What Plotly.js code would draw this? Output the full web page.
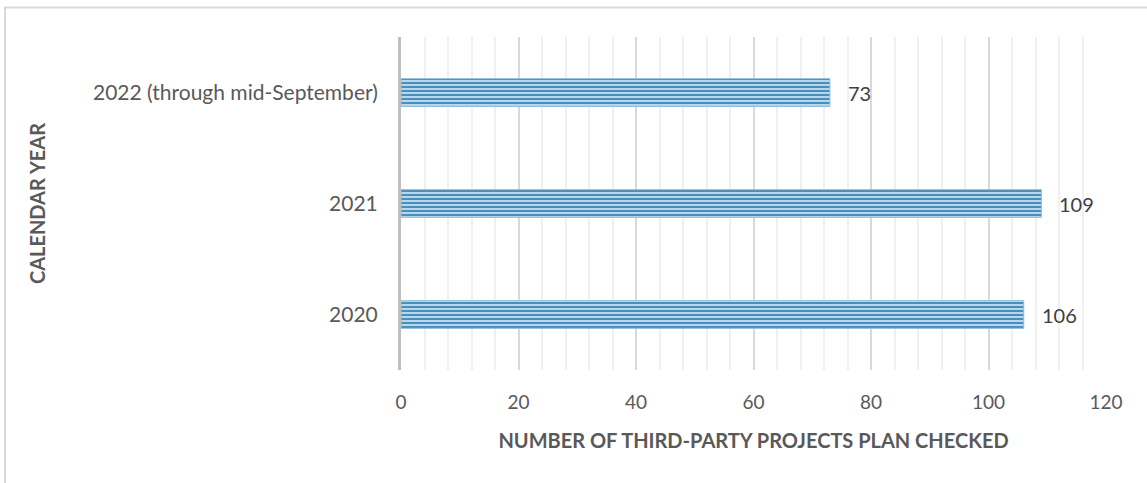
<!DOCTYPE html>
<html>
<head>
<meta charset="utf-8">
<script src="https://cdn.plot.ly/plotly-3.0.1.min.js"></script>
<style>html,body{margin:0;padding:0;background:#fff;}#chart{width:1147px;height:483px;}</style>
</head>
<body>
<div id="chart"></div>
<script>
const categories = ["2020", "2021", "2022 (through mid-September)"];
const values = [106, 109, 73];
const xTickVals = [0, 20, 40, 60, 80, 100, 120];
const xTitle = "NUMBER OF THIRD-PARTY PROJECTS PLAN CHECKED";
const yTitle = "CALENDAR YEAR";

const font = "Lato, 'Open Sans', sans-serif";
const W = 1147, H = 483;
const L = 401, R = 41, T = 37, B = 113;
const pw = W - L - R, ph = H - T - B;
function px2x(p){ return (p - L) / pw; }
function py2y(p){ return (H - B - p) / ph; }

const trace = {
  type: "bar",
  orientation: "h",
  y: categories,
  x: values,
  width: 0.25,
  marker: {
    color: "#b3d3ea",
    line: {color: "#8fbcdc", width: 1},
    pattern: {shape: "-", fgcolor: "#3d86b5", bgcolor: "#b8d7ed", size: 4, solidity: 0.45, fillmode: "replace"}
  },
  hoverinfo: "none"
};

const annotations = values.map((v, i) => ({
  x: v, y: i, xref: "x", yref: "y",
  text: String(v), showarrow: false, xanchor: "left", xshift: 16,
  font: {family: font, size: 20, color: "#404040"}
}));

const layout = {
  width: W, height: H,
  margin: {l: L, r: R, t: T, b: B, pad: 0},
  paper_bgcolor: "#fff", plot_bgcolor: "#fff",
  showlegend: false,
  xaxis: {
    range: [0, 120], tickvals: xTickVals, ticktext: xTickVals.map(String),
    showgrid: true, gridcolor: "#d9d9d9", gridwidth: 2,
    minor: {dtick: 4, tick0: 0, showgrid: true, gridcolor: "#f0f0f0", gridwidth: 2, ticks: ""},
    zeroline: false, showline: false, ticks: "",
    tickfont: {family: font, size: 19, color: "#595959"},
    ticklabelstandoff: 19,
    title: {text: xTitle, font: {family: font, size: 20, color: "#595959", weight: "bold"}, standoff: 21},
    fixedrange: true
  },
  yaxis: {
    type: "category", categoryorder: "array", categoryarray: categories,
    range: [-0.5, 2.5],
    showgrid: false, zeroline: false,
    showline: true, linecolor: "#bfbfbf", linewidth: 3,
    ticks: "", tickfont: {family: font, size: 21, color: "#595959"},
    ticklabelstandoff: 16,
    title: {text: yTitle, font: {family: font, size: 20, color: "#595959", weight: "bold"}, standoff: 42},
    automargin: false, fixedrange: true
  },
  annotations: annotations,
  shapes: [{
    type: "rect", xref: "paper", yref: "paper",
    x0: px2x(5), x1: px2x(1160), y0: py2y(500), y1: py2y(7.5),
    line: {color: "#d9d9d9", width: 2}, fillcolor: "rgba(0,0,0,0)", layer: "below"
  }]
};

Plotly.newPlot("chart", [trace], layout, {displayModeBar: false, staticPlot: true});
</script>
</body>
</html>
